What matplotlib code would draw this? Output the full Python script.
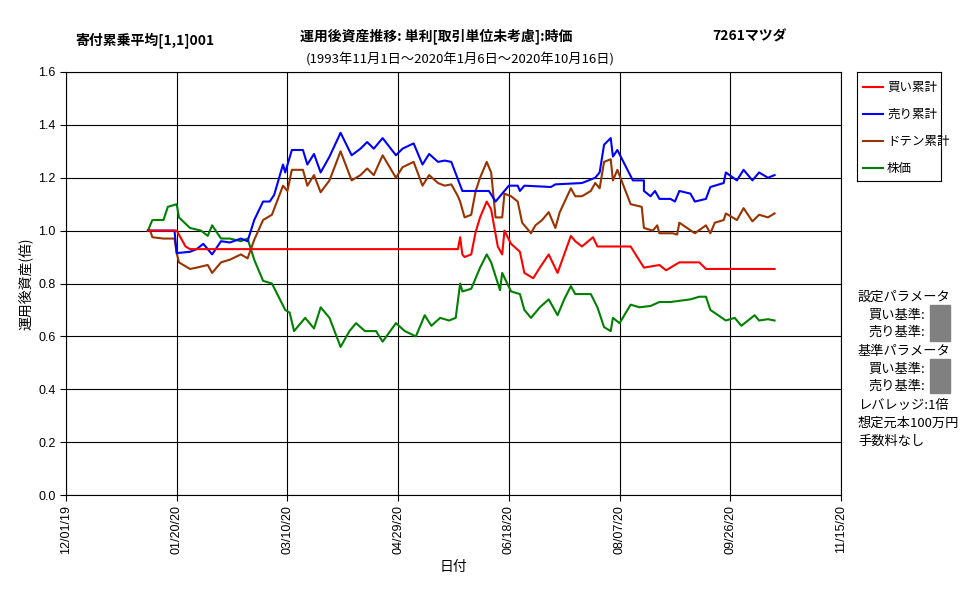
import matplotlib
matplotlib.use("Agg")
import matplotlib.pyplot as plt
from matplotlib.patches import Rectangle

plt.rcParams['font.family'] = ['Noto Sans CJK JP', 'DejaVu Sans']

# day offsets from 2019-12-01
tick_days = [0, 50, 100, 150, 200, 250, 300, 350]
tick_labels = ["12/01/19", "01/20/20", "03/10/20", "04/29/20", "06/18/20", "08/07/20", "09/26/20", "11/15/20"]

buy_d = [37, 50, 54, 56, 177, 178, 179, 180, 183, 185, 187, 190, 192, 195, 197, 198, 201, 205, 207, 211, 214, 218, 222, 225, 228, 230, 233, 238, 240, 255, 261, 268, 271, 277, 286, 289, 320]
buy_v = [1.00, 1.00, 0.94, 0.93, 0.93, 0.975, 0.91, 0.90, 0.91, 0.995, 1.05, 1.11, 1.08, 0.94, 0.91, 1.00, 0.95, 0.92, 0.84, 0.82, 0.86, 0.91, 0.84, 0.91, 0.98, 0.96, 0.94, 0.975, 0.94, 0.94, 0.86, 0.87, 0.85, 0.88, 0.88, 0.855, 0.855]

sell_d = [37, 49, 50, 56, 59, 62, 66, 70, 74, 79, 82, 85, 89, 92, 94, 98, 99, 102, 107, 109, 112, 115, 119, 124, 129, 133, 136, 139, 143, 149, 152, 157, 161, 164, 168, 171, 174, 179, 191, 194, 197, 200, 204, 205, 207, 219, 221, 233, 239, 241, 243, 246, 247, 249, 256, 261, 261, 264, 266, 268, 273, 275, 277, 282, 284, 289, 291, 297, 298, 303, 306, 310, 313, 317, 320]
sell_v = [1.00, 1.00, 0.915, 0.92, 0.93, 0.95, 0.91, 0.96, 0.955, 0.97, 0.96, 1.04, 1.11, 1.11, 1.135, 1.25, 1.22, 1.305, 1.305, 1.25, 1.29, 1.22, 1.28, 1.37, 1.285, 1.31, 1.335, 1.31, 1.35, 1.285, 1.31, 1.33, 1.25, 1.29, 1.26, 1.265, 1.26, 1.15, 1.15, 1.11, 1.14, 1.17, 1.17, 1.15, 1.17, 1.165, 1.175, 1.18, 1.20, 1.22, 1.325, 1.35, 1.28, 1.305, 1.19, 1.19, 1.15, 1.13, 1.15, 1.12, 1.12, 1.11, 1.15, 1.14, 1.11, 1.12, 1.165, 1.18, 1.22, 1.19, 1.23, 1.19, 1.22, 1.20, 1.21]

dot_d = [37, 38, 39, 44, 49, 50, 51, 56, 59, 64, 66, 70, 74, 79, 82, 85, 89, 93, 98, 100, 102, 107, 109, 112, 115, 119, 124, 129, 133, 136, 139, 143, 149, 152, 157, 161, 164, 168, 171, 174, 177, 178, 180, 183, 185, 187, 190, 192, 194, 197, 198, 201, 204, 206, 210, 212, 215, 218, 221, 223, 228, 230, 233, 237, 239, 241, 243, 246, 247, 249, 255, 260, 261, 265, 267, 268, 274, 276, 277, 284, 289, 291, 293, 297, 298, 303, 306, 310, 313, 317, 320]
dot_v = [1.00, 1.00, 0.975, 0.97, 0.97, 0.915, 0.88, 0.855, 0.86, 0.87, 0.84, 0.88, 0.89, 0.91, 0.895, 0.965, 1.04, 1.06, 1.17, 1.15, 1.23, 1.23, 1.17, 1.21, 1.145, 1.19, 1.30, 1.19, 1.21, 1.235, 1.21, 1.285, 1.20, 1.24, 1.26, 1.17, 1.21, 1.18, 1.17, 1.175, 1.13, 1.11, 1.05, 1.06, 1.15, 1.20, 1.26, 1.22, 1.05, 1.05, 1.14, 1.13, 1.11, 1.03, 0.99, 1.02, 1.04, 1.07, 1.01, 1.07, 1.16, 1.13, 1.13, 1.15, 1.18, 1.16, 1.26, 1.27, 1.19, 1.23, 1.10, 1.09, 1.01, 1.00, 1.02, 0.99, 0.99, 0.985, 1.03, 0.99, 1.02, 0.99, 1.03, 1.04, 1.065, 1.04, 1.085, 1.035, 1.06, 1.05, 1.065]

stk_d = [37, 39, 44, 46, 50, 51, 56, 61, 64, 66, 70, 74, 79, 82, 85, 89, 93, 99, 101, 103, 108, 112, 115, 119, 124, 128, 131, 135, 140, 143, 149, 153, 158, 162, 165, 169, 173, 176, 178, 179, 183, 185, 187, 190, 192, 196, 197, 201, 205, 207, 210, 214, 218, 222, 225, 228, 230, 237, 240, 243, 246, 247, 250, 255, 259, 264, 268, 273, 282, 286, 289, 291, 298, 302, 305, 311, 313, 317, 320]
stk_v = [1.00, 1.04, 1.04, 1.09, 1.10, 1.05, 1.01, 1.00, 0.98, 1.02, 0.97, 0.97, 0.96, 0.97, 0.89, 0.81, 0.80, 0.70, 0.69, 0.62, 0.67, 0.63, 0.71, 0.67, 0.56, 0.62, 0.65, 0.62, 0.62, 0.58, 0.65, 0.62, 0.60, 0.68, 0.64, 0.67, 0.66, 0.67, 0.80, 0.77, 0.78, 0.82, 0.86, 0.91, 0.88, 0.775, 0.84, 0.77, 0.76, 0.70, 0.67, 0.71, 0.74, 0.68, 0.74, 0.79, 0.76, 0.76, 0.71, 0.635, 0.62, 0.67, 0.65, 0.72, 0.71, 0.715, 0.73, 0.73, 0.74, 0.75, 0.75, 0.70, 0.66, 0.67, 0.64, 0.68, 0.66, 0.665, 0.66]

series = [("買い累計", "#ff0000", buy_d, buy_v), ("売り累計", "#0000ff", sell_d, sell_v),
          ("ドテン累計", "#993300", dot_d, dot_v), ("株価", "#008000", stk_d, stk_v)]
zorders = [5, 4, 3, 2]

fig = plt.figure(figsize=(9.77, 6.0), dpi=100)
ax = fig.add_axes([66/977, 1-495/600, 775/977, 423/600])
for (name, c, d, v), z in zip(series, zorders):
    ax.plot(d, v, color=c, lw=1.5, label=name, zorder=z)
ax.set_xlim(0, 350)
ax.set_ylim(0, 1.6)
ax.set_xticks(tick_days)
ax.set_xticklabels(tick_labels, rotation=90, fontsize=9, family=['Liberation Sans'])
ax.set_yticks([i*0.2 for i in range(9)])
ax.set_yticklabels([f"{i*0.2:.1f}" for i in range(9)], fontsize=9, family=['Liberation Sans'])
ax.grid(True, color='black', lw=0.8, zorder=1)
ax.set_axisbelow(True)
ax.tick_params(length=4, direction='out')
for s in ax.spines.values():
    s.set_linewidth(0.8)
ax.set_xlabel("日付", fontsize=10)
ax.set_ylabel("運用後資産(倍)", fontsize=10)

fig.text(75/977, 1-40/600, "寄付累乗平均[1,1]001", fontsize=10, weight='bold', va='center')
fig.text(300/977, 1-36/600, "運用後資産推移: 単利[取引単位未考慮]:時価", fontsize=10, weight='bold', va='center')
fig.text(712/977, 1-36/600, "7261マツダ", fontsize=10, weight='bold', va='center')
fig.text(460/977, 1-60/600, "(1993年11月1日～2020年1月6日～2020年10月16日)", fontsize=9.5, ha='center', va='center')

# legend box
lax = fig.add_axes([857/977, 1-181/600, 84/977, 109/600])
lax.set_xlim(0, 84); lax.set_ylim(109, 0)
lax.set_xticks([]); lax.set_yticks([])
for i, (name, c, d, v) in enumerate(series):
    y = 15 + i*27
    lax.plot([6, 26], [y, y], color=c, lw=1.5)
    lax.text(30, y, name, fontsize=9, va='center')

lines = [("設定パラメータ", 858, 297), ("買い基準:", 868, 315), ("売り基準:", 868, 332),
         ("基準パラメータ", 858, 351), ("買い基準:", 868, 369), ("売り基準:", 868, 386),
         ("レバレッジ:1倍", 858, 405), ("想定元本100万円", 858, 423), ("手数料なし", 858, 441)]
for t, x, y in lines:
    fig.text(x/977, 1-y/600, t, fontsize=9.5, va='center')
for y0, y1 in [(305, 341), (359, 393)]:
    fig.patches.append(Rectangle((930/977, 1-y1/600), 20/977, (y1-y0)/600, transform=fig.transFigure, color='#808080'))

fig.savefig("out.png", dpi=100)
